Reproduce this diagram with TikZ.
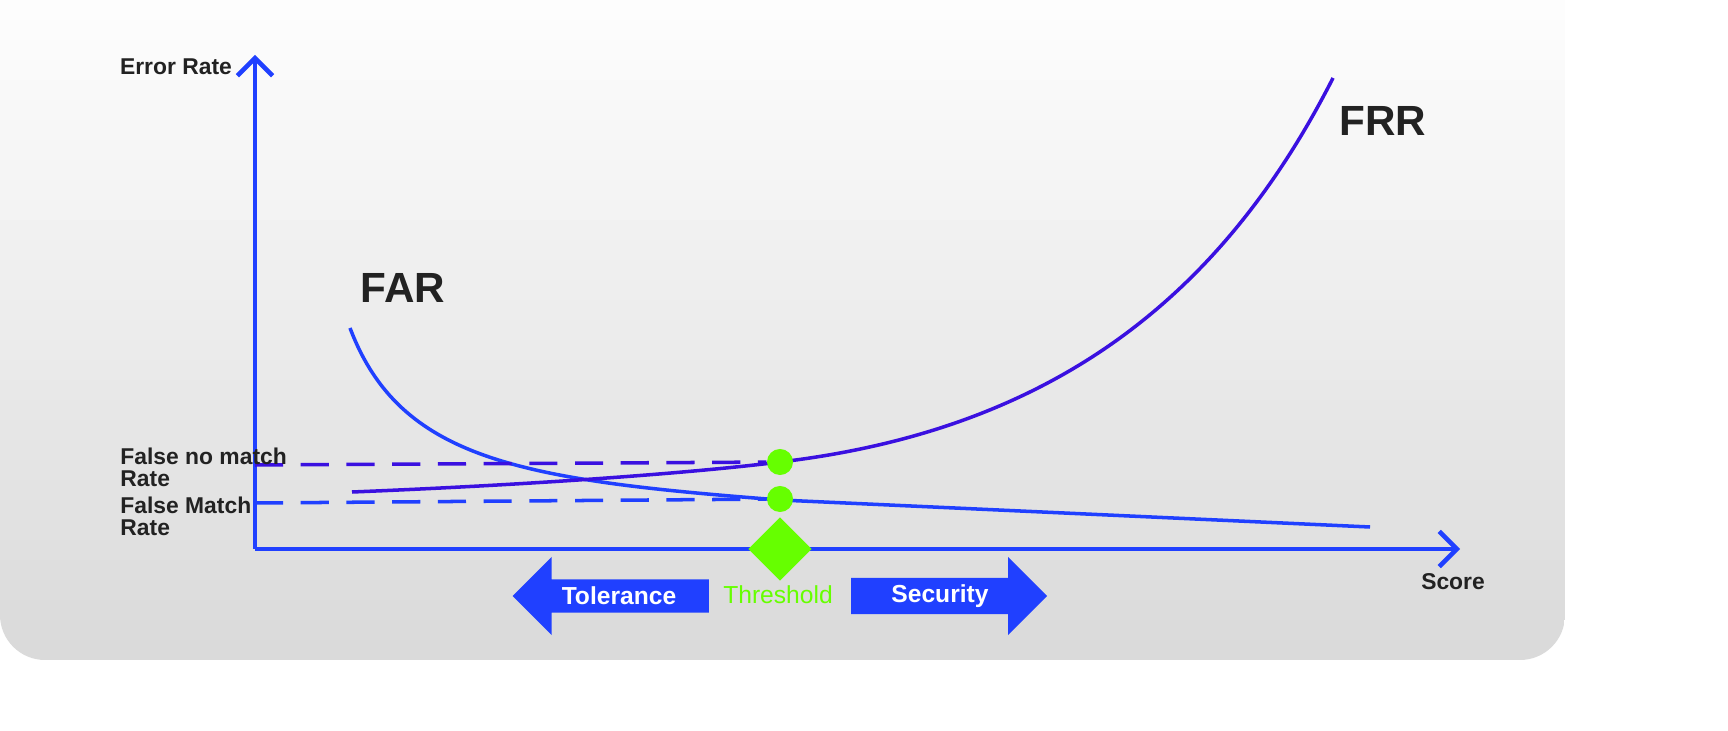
\documentclass[tikz,border=0pt]{standalone}
\usepackage{fontspec}
\setmainfont{Liberation Sans}
\usetikzlibrary{shapes.geometric,shapes.arrows,arrows.meta}
\definecolor{axisblue}{HTML}{2040FF}
\definecolor{frrpurple}{HTML}{3A10E0}
\definecolor{thgreen}{HTML}{66FF00}
\definecolor{bggray}{HTML}{DADADA}
\definecolor{txtdark}{HTML}{222222}
\begin{document}
\begin{tikzpicture}[x=0.01cm,y=-0.01cm,
    lbl/.style={font=\bfseries\fontsize{6.5}{6.3}\selectfont,txtdark,align=left},
    big/.style={font=\bfseries\fontsize{12}{14}\selectfont,txtdark},
    dot/.style={circle,fill=thgreen,inner sep=0pt,minimum size=0.26cm},
    arrowbox/.style={single arrow,fill=axisblue,draw=none,
        minimum width=0.78cm,single arrow head extend=0.18cm,inner sep=1pt,
        font=\bfseries\fontsize{7}{8}\selectfont,text=white}]
    \useasboundingbox (0,0) rectangle (1728,731);
    \begin{scope}
        \clip (0,0) -- (1565,0) [rounded corners=0.45cm] -- (1565,660) -- (0,660) [sharp corners] -- cycle;
        \foreach \i in {0,...,32}
            \fill[bggray!\fpeval{100-3*\i}!white] (0,{660-\i*20}) rectangle (1565,{640-\i*20});
    \end{scope}
    % axes
    \draw[axisblue,line width=1.3pt,-{Straight Barb[length=5pt]}] (255,549) -- (255,55);
    \draw[axisblue,line width=1.3pt,-{Straight Barb[length=5pt]}] (255,549) -- (1460,549);
    \node[lbl] (yl) at (176,67) {Error Rate};
    \node[lbl] (xl) at (1453,582) {Score};
    % curves
    \draw[axisblue,line width=1pt] (350,328) .. controls (400,460) and (520,480) .. (780,500)
        -- (1370,527);
    \draw[frrpurple,line width=1pt] (352,492) .. controls (550,484) and (700,472) .. (780,462)
        .. controls (1050,430) and (1220,300) .. (1333,78);
    \node[big] (far) at (403,288) {FAR};
    \node[big] (frr) at (1383,121) {FRR};
    % threshold
    \node[dot] (fnm) at (780,462) {};
    \node[dot] (fm) at (780,499) {};
    \coordinate (fnmy) at (255,465);
    \coordinate (fmy) at (255,503);
    \draw[frrpurple,line width=1pt,dash pattern=on 8pt off 5pt] (fnmy) -- (fnm);
    \draw[axisblue,line width=1pt,dash pattern=on 8pt off 5pt] (fmy) -- (fm);
    \node[lbl,anchor=west] (fnml) at (108,467) {False no match\\Rate};
    \node[lbl,anchor=west] (fml) at (108,516) {False Match\\Rate};
    \node[diamond,fill=thgreen,minimum size=0.64cm,inner sep=0pt] (th) at (780,549) {};
    \node[font=\fontsize{7}{8}\selectfont,thgreen] (thl) at (778,595) {Threshold};
    \node[arrowbox,shape border rotate=180,minimum height=1.96cm] (tol) at (619,596) {Tolerance};
    \node[arrowbox,minimum height=1.96cm] (sec) at (940,596) {Security};
\end{tikzpicture}
\end{document}
